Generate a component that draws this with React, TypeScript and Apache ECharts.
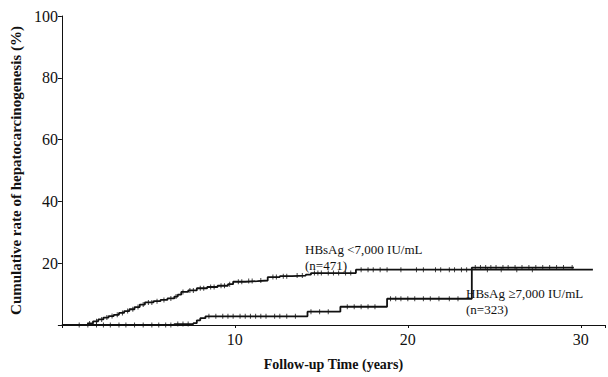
import React, { useEffect, useRef } from "react";
import * as echarts from "echarts";

// Kaplan–Meier step events: [time (years), cumulative rate (%)]
const lowSteps: [number, number][] = [
  [0, 0], [1.2, 0], [1.5, 0.5], [1.8, 1.2], [2.1, 1.8], [2.4, 2.4], [2.7, 2.9],
  [3.0, 3.3], [3.3, 3.9], [3.6, 4.5], [3.9, 5.1], [4.2, 5.8], [4.5, 6.6],
  [4.8, 7.3], [5.3, 7.7], [5.7, 8.1], [6.1, 8.6], [6.5, 9.2], [6.7, 9.8],
  [6.9, 10.7], [7.3, 11.2], [7.8, 11.9], [8.4, 12.3], [9.0, 12.7], [9.6, 13.2],
  [9.9, 14.0], [10.6, 14.2], [11.3, 14.4], [11.9, 15.5], [12.6, 15.8],
  [13.3, 16.0], [14.1, 16.3], [14.4, 16.8], [17.0, 17.9], [30.7, 17.9],
];
const highSteps: [number, number][] = [
  [0, 0], [5.0, 0], [6.5, 0.3], [7.6, 0.6], [7.8, 1.5], [8.0, 2.2], [8.3, 2.8],
  [14.1, 2.8], [14.2, 4.3], [16.0, 4.3], [16.1, 5.9], [18.7, 5.9], [18.8, 8.5],
  [23.6, 8.5], [23.7, 18.6], [29.6, 18.6],
];
const lowCensor: number[] = [
  1.6, 2.0, 2.3, 2.6, 2.9, 3.2, 3.5, 3.8, 4.1, 4.4, 4.7, 5.0, 5.2, 5.5, 5.9,
  6.3, 6.6, 7.0, 7.4, 7.6, 8.0, 8.2, 8.6, 8.8, 9.2, 9.4, 9.7, 10.2, 10.4, 10.8,
  11.0, 11.5, 12.2, 12.4, 12.8, 13.0, 13.6, 13.9, 14.6, 14.8, 15.0, 15.4, 15.7,
  16.0, 16.4, 16.7, 17.3, 17.7, 18.0, 18.4, 18.8, 19.6, 20.5, 20.9, 21.6, 21.9,
  22.4, 22.7, 23.1, 23.4, 24.6, 25.4, 26.3, 27.2,
];
const highCensor: number[] = [
  1.0, 1.5, 2.0, 2.4, 2.8, 3.3, 3.7, 4.2, 4.7, 5.2, 5.6, 6.0, 6.3, 6.7, 7.0,
  7.3, 8.5, 8.9, 9.3, 9.6, 9.9, 10.3, 10.6, 10.9, 11.2, 11.5, 11.8, 12.3, 12.6,
  13.0, 13.5, 14.4, 14.9, 15.4, 16.5, 16.9, 17.3, 17.7, 18.1, 19.0, 19.3, 19.6,
  20.0, 20.4, 20.9, 21.3, 21.8, 22.4, 22.9, 23.9, 24.2, 24.5, 24.8, 25.1, 25.5,
  25.8, 26.2, 26.6, 27.0, 27.4, 27.8, 28.2, 28.6, 29.0, 29.5,
];
const xTicks = ["10", "20", "30"];
const yTicks = ["20", "40", "60", "80", "100"];
const lowLabel = ["HBsAg <7,000 IU/mL", "(n=471)"];
const highLabel = ["HBsAg \u22657,000 IU/mL", "(n=323)"];

function valueAt(steps: [number, number][], t: number): number {
  let v = 0;
  for (const [x, y] of steps) {
    if (x <= t) v = y;
    else break;
  }
  return v;
}

const FONT = "'Liberation Serif', 'Times New Roman', serif";
const INK = "#111";

export default function App() {
  const ref = useRef<HTMLDivElement>(null);
  useEffect(() => {
    if (!ref.current) return;
    const chart = echarts.init(ref.current, undefined, { renderer: "svg" });
    const censorSymbol = {
      type: "scatter" as const,
      symbol: "rect",
      symbolSize: [1, 5],
      itemStyle: { color: INK },
      silent: true,
      z: 3,
    };
    chart.setOption({
      animation: false,
      grid: { left: 53, right: 3, top: 16, bottom: 52, containLabel: false },
      xAxis: {
        type: "value",
        min: 0,
        max: 31.4,
        interval: 10,
        name: "Follow-up Time (years)",
        nameLocation: "middle",
        nameGap: 32,
        nameTextStyle: { fontFamily: FONT, fontWeight: "bold", fontSize: 14, color: INK },
        axisLine: { lineStyle: { color: INK, width: 1 } },
        axisTick: { length: 3, lineStyle: { color: INK } },
        splitLine: { show: false },
        axisLabel: {
          fontFamily: FONT,
          fontSize: 16,
          color: INK,
          margin: 6,
          formatter: (v: number) => (xTicks.includes(String(v)) ? String(v) : ""),
        },
      },
      yAxis: {
        type: "value",
        min: 0,
        max: 100,
        interval: 20,
        name: "Cumulative rate of hepatocarcinogenesis (%)",
        nameLocation: "middle",
        nameGap: 36,
        nameTextStyle: { fontFamily: FONT, fontWeight: "bold", fontSize: 15, color: INK },
        axisLine: { show: true, lineStyle: { color: INK, width: 1 } },
        axisTick: { show: true, length: 4, lineStyle: { color: INK } },
        splitLine: { show: false },
        axisLabel: {
          fontFamily: FONT,
          fontSize: 16,
          color: INK,
          margin: 4,
          formatter: (v: number) => (yTicks.includes(String(v)) ? String(v) : ""),
        },
      },
      series: [
        {
          type: "line",
          step: "end",
          data: lowSteps,
          showSymbol: false,
          lineStyle: { color: INK, width: 1.8 },
          silent: true,
        },
        {
          type: "line",
          step: "end",
          data: highSteps,
          showSymbol: false,
          lineStyle: { color: INK, width: 1.8 },
          silent: true,
        },
        { ...censorSymbol, data: lowCensor.map((t) => [t, valueAt(lowSteps, t)]) },
        { ...censorSymbol, data: highCensor.map((t) => [t, valueAt(highSteps, t)]) },
      ],
      graphic: [
        {
          type: "text",
          left: 305,
          top: 241,
          style: { text: lowLabel.join("\n"), font: `13px ${FONT}`, fill: INK, lineHeight: 16 },
        },
        {
          type: "text",
          left: 466,
          top: 285,
          style: { text: highLabel.join("\n"), font: `13px ${FONT}`, fill: INK, lineHeight: 16 },
        },
      ],
    });
    return () => chart.dispose();
  }, []);
  return (
    <div
      ref={ref}
      style={{ position: "fixed", left: 0, top: 0, width: 608, height: 377, background: "#fff" }}
    />
  );
}
